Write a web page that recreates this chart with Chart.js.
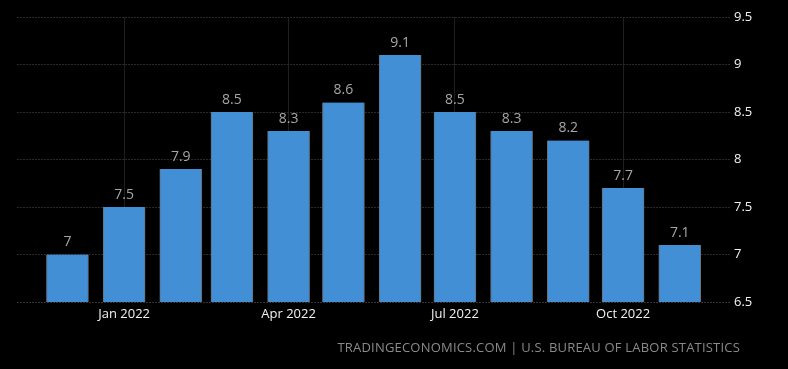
<!DOCTYPE html>
<html>
<head>
<meta charset="utf-8">
<script src="https://cdn.jsdelivr.net/npm/chart.js@4/dist/chart.umd.min.js"></script>
<style>
  html, body { margin: 0; padding: 0; background: #000; }
  #wrap { position: relative; width: 788px; height: 369px; }
  #source {
    position: absolute; right: 48px; top: 338px;
    font: 13px "Open Sans", sans-serif; color: #8a8a8a; letter-spacing: 0.2px;
  }
</style>
</head>
<body>
<div id="wrap">
  <canvas id="cpi" width="788" height="369"></canvas>
  <div id="source">TRADINGECONOMICS.COM | U.S. BUREAU OF LABOR STATISTICS</div>
</div>
<script>
// Data
const months = ["2021-12", "2022-01", "2022-02", "2022-03", "2022-04", "2022-05",
                "2022-06", "2022-07", "2022-08", "2022-09", "2022-10", "2022-11"];
const values = [7, 7.5, 7.9, 8.5, 8.3, 8.6, 9.1, 8.5, 8.3, 8.2, 7.7, 7.1];
const tickMonths = ["2022-01", "2022-04", "2022-07", "2022-10"];
const tickLabels = ["Jan 2022", "Apr 2022", "Jul 2022", "Oct 2022"];
const yTicks = [6.5, 7, 7.5, 8, 8.5, 9, 9.5];

const font = "'Open Sans', sans-serif";

// days since first month, so bars sit on a time axis like the original
const start = Date.UTC(2021, 11, 1);
const dayOf = (m) => {
    const [y, mo] = m.split("-").map(Number);
    return (Date.UTC(y, mo - 1, 1) - start) / 86400000;
};
const xMin = -27.6;
const xMax = 362.5;

// value labels above bars
const valueLabels = {
    id: "valueLabels",
    afterDatasetsDraw(chart) {
        const ctx = chart.ctx;
        const meta = chart.getDatasetMeta(0);
        ctx.save();
        ctx.font = "14px " + font;
        ctx.fillStyle = "#a6a6a6";
        ctx.textAlign = "center";
        ctx.textBaseline = "bottom";
        meta.data.forEach((bar, i) => {
            ctx.fillText(String(values[i]), bar.x, bar.y - 5);
        });
        ctx.restore();
    },
};

new Chart(document.getElementById("cpi"), {
    type: "bar",
    data: {
        datasets: [
            {
                label: "Inflation rate",
                data: values.map((v, i) => ({ x: dayOf(months[i]), y: v })),
                backgroundColor: "#428fd6",
                borderColor: "#66717c",
                borderWidth: { left: 1, right: 1 },
                barThickness: 42,
            },
        ],
    },
    options: {
        responsive: false,
        animation: false,
        layout: { padding: { left: 17, top: 17, right: 0, bottom: 0 } },
        plugins: {
            legend: { display: false },
            tooltip: { enabled: false },
        },
        scales: {
            x: {
                type: "linear",
                offset: false,
                min: xMin,
                max: xMax,
                afterBuildTicks: (scale) => {
                    scale.ticks = tickMonths.map((m) => ({ value: dayOf(m) }));
                    scale.min = xMin;
                    scale.max = xMax;
                },
                afterFit: (scale) => { scale.height = 67; },
                ticks: {
                    color: "#f2f2f2",
                    font: { family: font, size: 13 },
                    padding: 4,
                    maxRotation: 0,
                    callback: (v) => tickLabels[tickMonths.findIndex((m) => dayOf(m) === v)],
                },
                grid: {
                    offset: false,
                    color: "#1f1f1f",
                    drawTicks: false,
                },
                border: { display: false },
            },
            y: {
                position: "right",
                min: 6.5,
                max: 9.5,
                afterBuildTicks: (scale) => {
                    scale.ticks = yTicks.map((v) => ({ value: v }));
                },
                afterFit: (scale) => { scale.width = 58; },
                ticks: {
                    color: "#f2f2f2",
                    font: { family: font, size: 13 },
                    padding: 4,
                    callback: (v) => String(v),
                },
                grid: {
                    color: (c) => (c.tick && c.tick.value === 6.5 ? "#333" : "#2a2a2a"),
                    drawTicks: false,
                },
                border: { display: false, dash: [2, 1] },
            },
        },
    },
    plugins: [valueLabels],
});
</script>
</body>
</html>
